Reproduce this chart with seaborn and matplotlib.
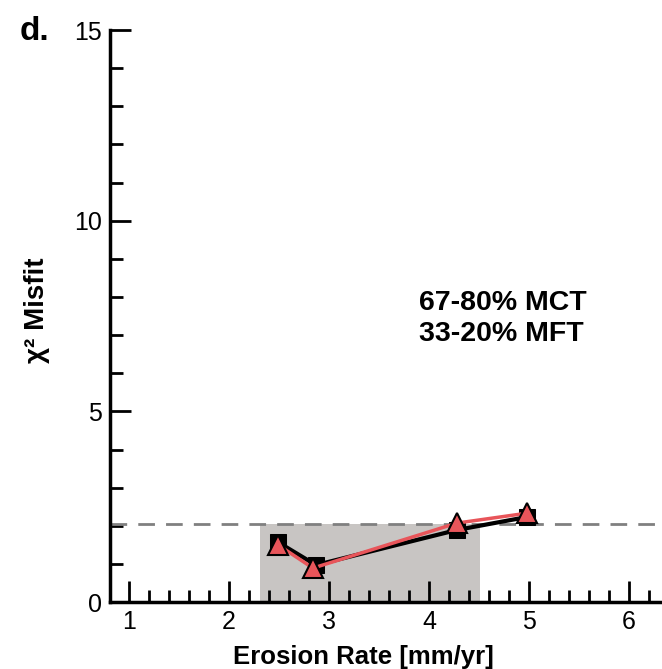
import matplotlib
matplotlib.use("Agg")
import matplotlib.pyplot as plt
from matplotlib.ticker import MultipleLocator
import pandas as pd
import seaborn as sns

# erosion rate [mm/yr] and chi^2 misfit for the two models
rate_sq = [2.49, 2.87, 4.28, 4.98]
misfit_sq = [1.57, 0.97, 1.89, 2.23]
rate_tri = [2.49, 2.84, 4.28, 4.98]
misfit_tri = [1.50, 0.89, 2.07, 2.33]

band_x = [2.31, 4.51]
band_top = 2.05
threshold = 2.05

panel = "d."
note = "67-80% MCT\n33-20% MFT"


def main():
    sns.set_style("ticks")
    plt.rcParams['font.family'] = ['Liberation Sans', 'DejaVu Sans']
    plt.rcParams['text.color'] = 'black'
    plt.rcParams['axes.labelcolor'] = 'black'
    plt.rcParams['xtick.color'] = 'black'
    plt.rcParams['ytick.color'] = 'black'

    fig = plt.figure(figsize=(6.62, 6.69), dpi=100)
    ax = fig.add_axes([0.166, 0.1001, 0.834, 0.855])

    ax.axvspan(band_x[0], band_x[1], ymin=0, ymax=band_top / 15,
               color="#c8c5c3", lw=0, zorder=0)
    ax.axhline(threshold, color="#808080", lw=2, dashes=(6, 4), zorder=1)

    df1 = pd.DataFrame({"rate": rate_sq, "misfit": misfit_sq})
    df2 = pd.DataFrame({"rate": rate_tri, "misfit": misfit_tri})
    sns.lineplot(data=df1, x="rate", y="misfit", ax=ax, color="black", lw=3,
                 marker="s", markersize=11, markeredgecolor="black",
                 markerfacecolor="black", zorder=3)
    sns.lineplot(data=df2, x="rate", y="misfit", ax=ax, color="#e8555a", lw=2.5,
                 marker="^", markersize=15, markeredgecolor="black",
                 markeredgewidth=1.5, markerfacecolor="#e8555a", zorder=4)

    ax.set_xlim(0.81, 6.33)
    ax.set_ylim(0, 15)
    ax.xaxis.set_major_locator(MultipleLocator(1))
    ax.xaxis.set_minor_locator(MultipleLocator(0.2))
    ax.yaxis.set_major_locator(MultipleLocator(5))
    ax.yaxis.set_minor_locator(MultipleLocator(1))
    ax.tick_params(which="major", direction="in", length=15, width=2,
                   labelsize=18, pad=6, color="black", labelcolor="black")
    ax.tick_params(which="minor", direction="in", length=9, width=2, color="black")

    sns.despine(ax=ax)
    for s in ["left", "bottom"]:
        ax.spines[s].set_linewidth(2.5)
        ax.spines[s].set_color("black")

    ax.set_xlabel("Erosion Rate [mm/yr]", fontsize=18.5, fontweight="bold")
    ax.xaxis.set_label_coords(0.46, -0.075)
    ax.set_ylabel("χ² Misfit", fontsize=20, fontweight="bold")
    ax.yaxis.set_label_coords(-0.108, 0.51)

    ax.text(0.56, 0.495, note, transform=ax.transAxes, fontsize=20.5,
            fontweight="bold", va="center", ha="left", linespacing=1.25)
    fig.text(0.03, 0.94, panel, fontsize=24, fontweight="bold")

    fig.savefig("out.png", dpi=100)


if __name__ == "__main__":
    main()
